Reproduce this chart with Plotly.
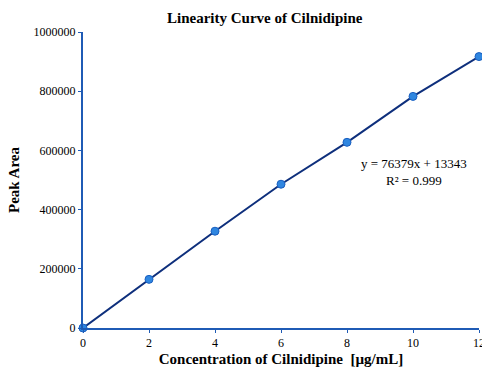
import plotly.graph_objects as go

conc = [0, 2, 4, 6, 8, 10, 12]
peak_area = [0, 164300, 327000, 485700, 627300, 782500, 917000]
x_ticks = [0, 2, 4, 6, 8, 10, 12]
y_ticks = [0, 200000, 400000, 600000, 800000, 1000000]

serif = "Liberation Serif, Times New Roman, serif"
axis_blue = "#1F5BB5"

fig = go.Figure()
fig.add_trace(go.Scatter(
    x=conc, y=peak_area, mode="lines+markers",
    line=dict(color="#0E2F7C", width=2),
    marker=dict(size=8, color="#2F86E0", line=dict(color="#1A5FC0", width=1)),
    cliponaxis=False, showlegend=False,
))

fig.update_layout(
    width=482, height=369,
    margin=dict(l=83, r=3, t=32, b=41, autoexpand=False),
    paper_bgcolor="white", plot_bgcolor="white",
    font=dict(family=serif, color="black"),
    annotations=[
        dict(text="<b>Linearity Curve of Cilnidipine</b>", xref="paper", yref="paper",
             x=(265 - 83) / 396, y=1 + (32 - 18) / 296, xanchor="center", yanchor="middle",
             showarrow=False, font=dict(size=15, family=serif)),
        dict(text="y = 76379x + 13343", xref="x", yref="y", x=10.03, y=557000,
             showarrow=False, font=dict(size=13, family=serif), xanchor="center", yanchor="middle"),
        dict(text="R² = 0.999", xref="x", yref="y", x=10.03, y=500000,
             showarrow=False, font=dict(size=13, family=serif), xanchor="center", yanchor="middle"),
    ],
)

fig.update_xaxes(
    range=[0, 12], tickvals=x_ticks, ticktext=[str(v) for v in x_ticks],
    showgrid=False, zeroline=False, showline=True, linecolor=axis_blue, linewidth=2,
    ticks="outside", ticklen=3, tickcolor=axis_blue, tickwidth=1, automargin=False,
    tickfont=dict(size=12, family=serif), ticklabeloverflow="allow",
    title=dict(text="<b>Concentration of Cilnidipine  [µg/mL]</b>", font=dict(size=15, family=serif), standoff=4),
)
fig.update_yaxes(
    range=[0, 1000000], tickvals=y_ticks, ticktext=[str(v) for v in y_ticks],
    showgrid=False, zeroline=False, showline=True, linecolor=axis_blue, linewidth=2,
    ticks="outside", ticklen=3, tickcolor=axis_blue, tickwidth=1, automargin=False,
    tickfont=dict(size=12, family=serif),
    title=dict(text="<b>Peak Area</b>", font=dict(size=15, family=serif), standoff=10),
)

fig.write_html("out.html")
